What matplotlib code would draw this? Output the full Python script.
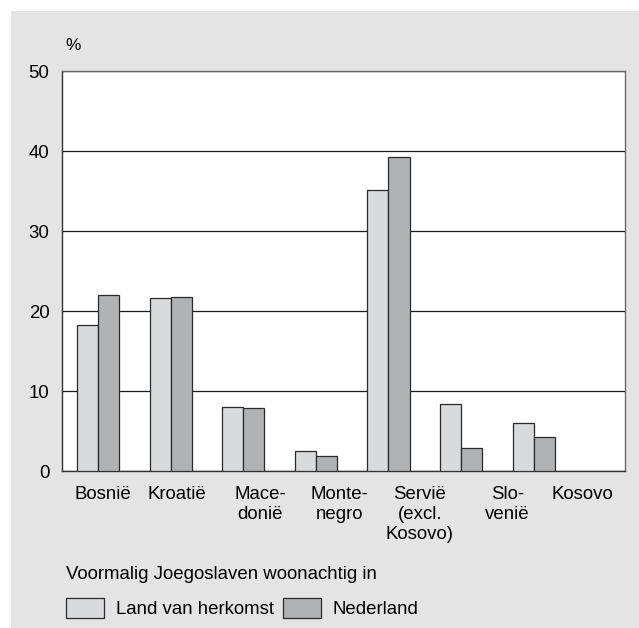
import numpy as np
import matplotlib.pyplot as plt
from matplotlib.patches import Rectangle, Patch

# ____________________ DATA ____________________

landen = ['Bosnië', 'Kroatië', 'Mace-\ndonië', 'Monte-\nnegro',
          'Servië\n(excl.\nKosovo)', 'Slo-\nvenië', 'Kosovo']
herkomst = [18.3, 21.6, 8.0, 2.5, 35.1, 8.4, 6.0]
nederland = [22.0, 21.8, 7.9, 1.9, 39.2, 2.9, 4.3]
yticks = [0, 10, 20, 30, 40, 50]

# ____________________ STYLE ____________________

W, H = 639, 628
bg = '#e3e4e3'
light = '#d9dadb'
dark = '#b1b2b3'
edge = '#2a2a2a'
plt.rcParams['font.family'] = ['Liberation Sans', 'DejaVu Sans']
fs = 13.4

fig = plt.figure(figsize=(W / 100, H / 100), dpi=100)
fig.patch.set_facecolor('white')
fig.patches.append(Rectangle((11 / W, 0), 1 - 11 / W, 1 - 11 / H,
                             transform=fig.transFigure, facecolor=bg,
                             edgecolor='none', zorder=-10))

ax = fig.add_axes([62 / W, (H - 471) / H, (625 - 62) / W, (471 - 71) / H])
ax.set_facecolor('white')

x = np.arange(len(landen))
bw = 0.29
ax.bar(x - bw / 2, herkomst, bw, color=light, edgecolor=edge, linewidth=0.9, zorder=3)
ax.bar(x + bw / 2, nederland, bw, color=dark, edgecolor=edge, linewidth=0.9, zorder=3)

ax.set_xlim(-0.5, 7.26)
ax.set_ylim(0, 50)
ax.set_yticks(yticks)
ax.yaxis.grid(True, color='#1a1a1a', linewidth=0.9, zorder=1)
ax.set_axisbelow(True)
ax.tick_params(axis='y', length=0, pad=9, labelsize=fs)

# labels staan in het origineel iets naar rechts verschoven t.o.v. de staven
label_shift = [0.06, 1.09, 2.23, 3.33, 4.43, 5.64, 6.67]
ax.set_xticks(label_shift)
ax.set_xticklabels(landen, fontsize=fs, linespacing=1.22)
ax.tick_params(axis='x', length=0, pad=11)

for s in ['left', 'bottom']:
    ax.spines[s].set_color('#333333')
    ax.spines[s].set_linewidth(1.0)
for s in ['top', 'right']:
    ax.spines[s].set_color('#6a6a6a')
    ax.spines[s].set_linewidth(1.0)

fig.text(65 / W, 1 - 46 / H, '%', fontsize=fs - 1, va='center', ha='left')

# ____________________ LEGEND ____________________

handles = [Patch(facecolor=light, edgecolor=edge, linewidth=0.9),
           Patch(facecolor=dark, edgecolor=edge, linewidth=0.9)]
leg = fig.legend(handles, ['Land van herkomst', 'Nederland'], ncol=2,
                 title='Voormalig Joegoslaven woonachtig in',
                 title_fontsize=fs, fontsize=fs, alignment='left',
                 loc='upper left', bbox_to_anchor=(66 / W, 1 - 566 / H),
                 frameon=False, borderpad=0, borderaxespad=0,
                 handlelength=2.05, handleheight=1.35, handletextpad=0.65,
                 columnspacing=0.45, labelspacing=0.78)

fig.savefig('out.png', dpi=100)
